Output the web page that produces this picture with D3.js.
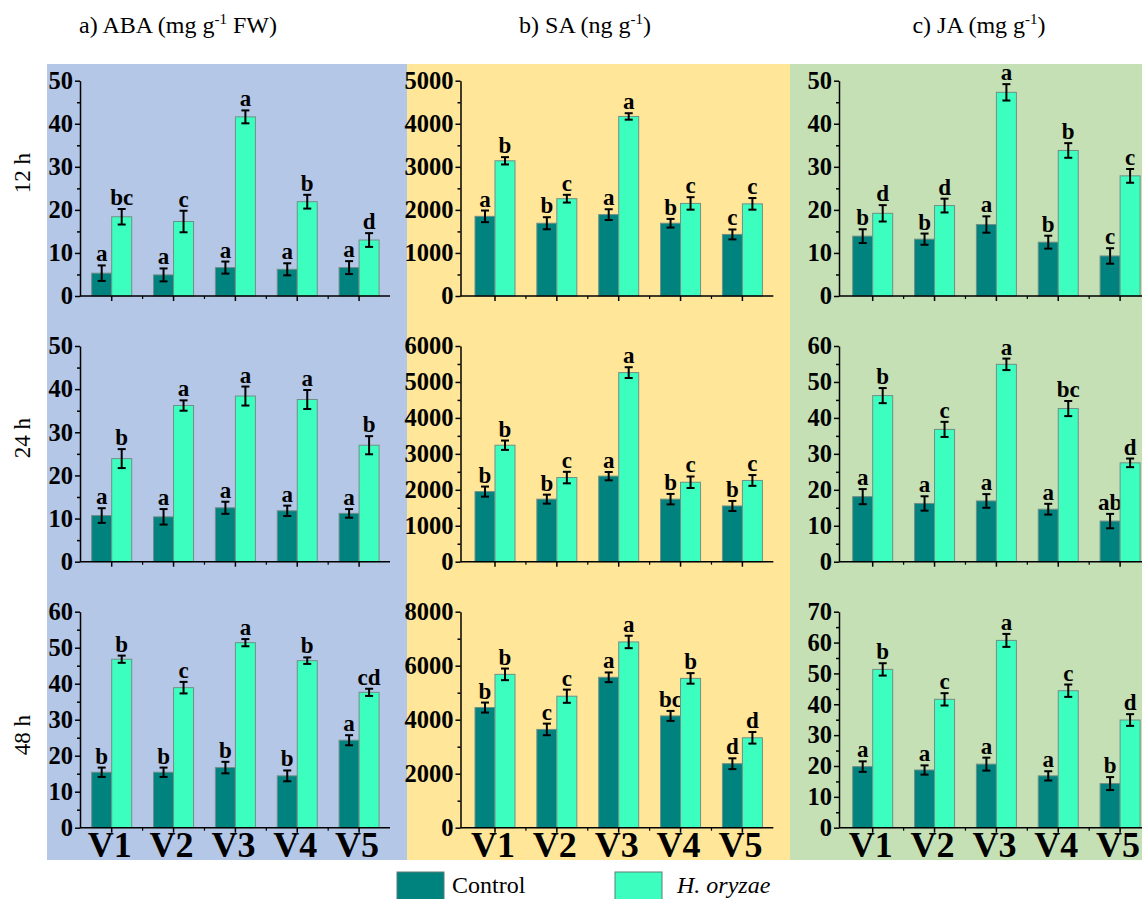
<!DOCTYPE html>
<html>
<head>
<meta charset="utf-8">
<script src="https://cdn.jsdelivr.net/npm/d3@7"></script>
<style>
  html, body { margin: 0; padding: 0; background: #ffffff; }
  svg { display: block; }
  text { font-family: "Liberation Serif", "Times New Roman", serif; fill: #000; }
</style>
</head>
<body>
<svg id="chart" width="1142" height="899"></svg>
<script>
// Varieties, sampling times and treatments
const varieties = ["V1", "V2", "V3", "V4", "V5"];
const timepoints = ["12 h", "24 h", "48 h"];
const treatments = ["Control", "H. oryzae"];

// Axis maxima and major tick steps per hormone (rows: 12 h, 24 h, 48 h)
const abaMax = [50, 50, 60];
const abaStep = [10, 10, 10];
const saMax = [5000, 6000, 8000];
const saStep = [1000, 1000, 2000];
const jaMax = [50, 60, 70];
const jaStep = [10, 10, 10];

// ABA (mg g-1 FW): means, error bars and significance letters
const abaControl = [
  [5.3, 4.9, 6.6, 6.2, 6.6],
  [10.7, 10.4, 12.5, 11.8, 11.2],
  [15.4, 15.4, 16.7, 14.4, 24.3]
];
const abaControlErr = [
  [1.8, 1.5, 1.4, 1.4, 1.5],
  [1.7, 1.8, 1.4, 1.2, 1.0],
  [1.3, 1.3, 1.6, 1.5, 1.4]
];
const abaControlSig = [
  ["a", "a", "a", "a", "a"],
  ["a", "a", "a", "a", "a"],
  ["b", "b", "b", "b", "a"]
];
const abaInfected = [
  [18.4, 17.3, 41.6, 21.9, 13.0],
  [23.9, 36.2, 38.4, 37.6, 27.0],
  [46.8, 38.9, 51.4, 46.4, 37.6]
];
const abaInfectedErr = [
  [1.8, 2.5, 1.5, 1.6, 1.6],
  [2.2, 1.2, 2.2, 2.2, 2.1],
  [1.0, 1.6, 1.0, 0.9, 1.0]
];
const abaInfectedSig = [
  ["bc", "c", "a", "b", "d"],
  ["b", "a", "a", "a", "b"],
  ["b", "c", "a", "b", "cd"]
];

// SA (ng g-1)
const saControl = [
  [1850, 1690, 1890, 1690, 1430],
  [1950, 1740, 2380, 1740, 1550],
  [4450, 3640, 5570, 4140, 2370]
];
const saControlErr = [
  [135, 140, 125, 100, 115],
  [140, 125, 115, 145, 140],
  [185, 215, 180, 185, 200]
];
const saControlSig = [
  ["a", "b", "a", "b", "c"],
  ["b", "b", "a", "b", "b"],
  ["b", "c", "a", "bc", "d"]
];
const saInfected = [
  [3140, 2260, 4170, 2150, 2140],
  [3240, 2340, 5260, 2210, 2260],
  [5680, 4870, 6880, 5530, 3330]
];
const saInfectedErr = [
  [85, 90, 75, 145, 135],
  [130, 160, 150, 160, 150],
  [215, 245, 230, 195, 215]
];
const saInfectedSig = [
  ["b", "c", "a", "c", "c"],
  ["b", "c", "a", "c", "c"],
  ["b", "c", "a", "b", "d"]
];

// JA (mg g-1)
const jaControl = [
  [13.9, 13.2, 16.6, 12.5, 9.3],
  [18.1, 16.2, 16.9, 14.6, 11.3],
  [19.8, 18.7, 20.6, 16.8, 14.3]
];
const jaControlErr = [
  [1.6, 1.3, 1.9, 1.5, 1.8],
  [2.1, 2.0, 1.9, 1.5, 2.0],
  [1.7, 1.5, 2.1, 1.5, 2.1]
];
const jaControlSig = [
  ["b", "b", "a", "b", "c"],
  ["a", "a", "a", "a", "ab"],
  ["a", "a", "a", "a", "b"]
];
const jaInfected = [
  [19.2, 21.0, 47.3, 33.8, 27.9],
  [46.2, 36.8, 54.9, 42.6, 27.5],
  [51.3, 41.6, 60.7, 44.4, 34.9]
];
const jaInfectedErr = [
  [1.9, 1.6, 1.9, 1.7, 1.6],
  [2.1, 2.1, 1.6, 2.1, 1.2],
  [2.0, 2.0, 2.1, 2.0, 1.9]
];
const jaInfectedSig = [
  ["d", "d", "a", "b", "c"],
  ["b", "c", "a", "bc", "d"],
  ["b", "c", "a", "c", "d"]
];

// Hormone columns assembled from the arrays above
const hormones = [
  { title: ["a) ABA (mg g", "-1", " FW)"], max: abaMax, step: abaStep,
    series: [[abaControl, abaControlErr, abaControlSig], [abaInfected, abaInfectedErr, abaInfectedSig]] },
  { title: ["b) SA (ng g", "-1", ")"], max: saMax, step: saStep,
    series: [[saControl, saControlErr, saControlSig], [saInfected, saInfectedErr, saInfectedSig]] },
  { title: ["c) JA (mg g", "-1", ")"], max: jaMax, step: jaStep,
    series: [[jaControl, jaControlErr, jaControlSig], [jaInfected, jaInfectedErr, jaInfectedSig]] }
];

// ---- layout ----
const colors = { Control: "#00827f", "H. oryzae": "#3cffbf" };
const panelBg = [
  { x: 47, w: 360, fill: "#b4c7e7" },
  { x: 407, w: 383, fill: "#ffe699" },
  { x: 790, w: 352, fill: "#c5e0b4" }
];
const panelTop = 64, panelBottom = 860;
const rowTop = [80.7, 346, 611.7];
const rowBottom = [296, 561.7, 827.7];
const axisX = [80, 460.5, 839];
const firstCenter = [111.7, 495, 872.7];
const catStep = 61.85;
const titleX = [178, 585, 979];
const rowLabelY = [173, 438, 735];

const svg = d3.select("#chart");

// coloured backgrounds
svg.selectAll("rect.bg").data(panelBg).join("rect")
  .attr("class", "bg")
  .attr("x", d => d.x).attr("y", panelTop)
  .attr("width", d => d.w).attr("height", panelBottom - panelTop)
  .attr("fill", d => d.fill);

// column titles
hormones.forEach((h, c) => {
  const t = svg.append("text")
    .attr("x", titleX[c]).attr("y", 33)
    .attr("text-anchor", "middle")
    .style("font-size", "24px");
  t.append("tspan").text(h.title[0]);
  t.append("tspan").attr("dy", -9).style("font-size", "15px").text(h.title[1]);
  t.append("tspan").attr("dy", 9).text(h.title[2]);
});

// row labels
timepoints.forEach((tp, r) => {
  svg.append("text")
    .attr("transform", `translate(30,${rowLabelY[r]}) rotate(-90)`)
    .attr("text-anchor", "middle")
    .style("font-size", "23px")
    .text(tp);
});

const inner = d3.scaleBand().domain(treatments).range([-20, 20]);

hormones.forEach((h, c) => {
  const x = d3.scaleBand()
    .domain(varieties)
    .range([firstCenter[c] - catStep / 2, firstCenter[c] + catStep * 4.5]);

  timepoints.forEach((tp, r) => {
    const y = d3.scaleLinear().domain([0, h.max[r]]).range([rowBottom[r], rowTop[r]]);
    const g = svg.append("g");

    const major = d3.range(0, h.max[r] + 1e-9, h.step[r]);
    const minor = d3.range(h.step[r] / 2, h.max[r], h.step[r]);

    // bars, error bars and letters per treatment
    treatments.forEach((tr, s) => {
      const [means, errs, sigs] = h.series[s];
      const rows = varieties.map((v, i) => ({ v, m: means[r][i], e: errs[r][i], sig: sigs[r][i] }));
      const gs = g.append("g");
      gs.selectAll("rect").data(rows).join("rect")
        .attr("x", d => x(d.v) + x.bandwidth() / 2 + inner(tr))
        .attr("y", d => y(d.m))
        .attr("width", inner.bandwidth())
        .attr("height", d => y(0) - y(d.m))
        .attr("fill", colors[tr])
        .attr("stroke", "#6f8f86")
        .attr("stroke-width", 1);

      const cx = d => x(d.v) + x.bandwidth() / 2 + inner(tr) + inner.bandwidth() / 2;
      gs.selectAll("line.err").data(rows).join("line")
        .attr("class", "err")
        .attr("x1", cx).attr("x2", cx)
        .attr("y1", d => y(d.m - d.e)).attr("y2", d => y(d.m + d.e))
        .attr("stroke", "#000").attr("stroke-width", 2);
      gs.selectAll("line.capT").data(rows).join("line")
        .attr("class", "capT")
        .attr("x1", d => cx(d) - 4).attr("x2", d => cx(d) + 4)
        .attr("y1", d => y(d.m + d.e)).attr("y2", d => y(d.m + d.e))
        .attr("stroke", "#000").attr("stroke-width", 2);
      gs.selectAll("line.capB").data(rows).join("line")
        .attr("class", "capB")
        .attr("x1", d => cx(d) - 4).attr("x2", d => cx(d) + 4)
        .attr("y1", d => y(d.m - d.e)).attr("y2", d => y(d.m - d.e))
        .attr("stroke", "#000").attr("stroke-width", 2);
      gs.selectAll("text.sig").data(rows).join("text")
        .attr("class", "sig")
        .attr("x", cx)
        .attr("y", d => y(d.m + d.e) - 4)
        .attr("text-anchor", "middle")
        .style("font-size", "23px").style("font-weight", "bold")
        .text(d => d.sig);
    });

    // y axis: major and minor ticks
    const yAxis = g.append("g").attr("transform", `translate(${axisX[c]},0)`);
    yAxis.call(d3.axisLeft(y).tickValues(major).tickSize(5).tickSizeOuter(0).tickPadding(2).tickFormat(d3.format("d")));
    yAxis.append("g").call(d3.axisLeft(y).tickValues(minor).tickSize(3).tickSizeOuter(0).tickFormat(""))
      .select(".domain").remove();
    yAxis.selectAll("path, line").attr("stroke", "#000").attr("stroke-width", 1.5);
    yAxis.selectAll("text")
      .style("font-family", "'Liberation Serif', 'Times New Roman', serif")
      .style("font-size", "24.5px").style("font-weight", "bold").attr("fill", "#000");

    // x axis: line, ticks at variety centres and between varieties
    const xAxis = g.append("g").attr("transform", `translate(0,${rowBottom[r]})`);
    xAxis.call(d3.axisBottom(x).tickSize(5).tickSizeOuter(0).tickPadding(6)
      .tickFormat(r === 2 ? (d => d) : () => ""));
    xAxis.select(".domain").remove();
    xAxis.append("line")
      .attr("x1", axisX[c]).attr("x2", x.range()[1])
      .attr("stroke", "#000").attr("stroke-width", 1.5);
    xAxis.selectAll("line.between").data(varieties.slice(1)).join("line")
      .attr("class", "between")
      .attr("x1", d => x(d)).attr("x2", d => x(d))
      .attr("y1", 0).attr("y2", 3)
      .attr("stroke", "#000").attr("stroke-width", 1.2);
    xAxis.selectAll(".tick line").attr("stroke", "#000").attr("stroke-width", 1.5);
    xAxis.selectAll(".tick text")
      .attr("y", 0).attr("dy", 0)
      .attr("transform", "translate(-2,29)")
      .style("font-family", "'Liberation Serif', 'Times New Roman', serif")
      .style("font-size", "36px").style("font-weight", "bold").attr("fill", "#000");
  });
});

// legend
const legendItems = [
  { key: "Control", rx: 397, tx: 452, italic: false },
  { key: "H. oryzae", rx: 615, tx: 677, italic: true }
];
const lg = svg.append("g");
lg.selectAll("rect").data(legendItems).join("rect")
  .attr("x", d => d.rx).attr("y", 872)
  .attr("width", 47).attr("height", 32)
  .attr("fill", d => colors[d.key])
  .attr("stroke", "#5d7d75").attr("stroke-width", 1);
lg.selectAll("text").data(legendItems).join("text")
  .attr("x", d => d.tx).attr("y", 893)
  .style("font-size", "24px")
  .style("font-style", d => d.italic ? "italic" : "normal")
  .text(d => d.key);
</script>
</body>
</html>
